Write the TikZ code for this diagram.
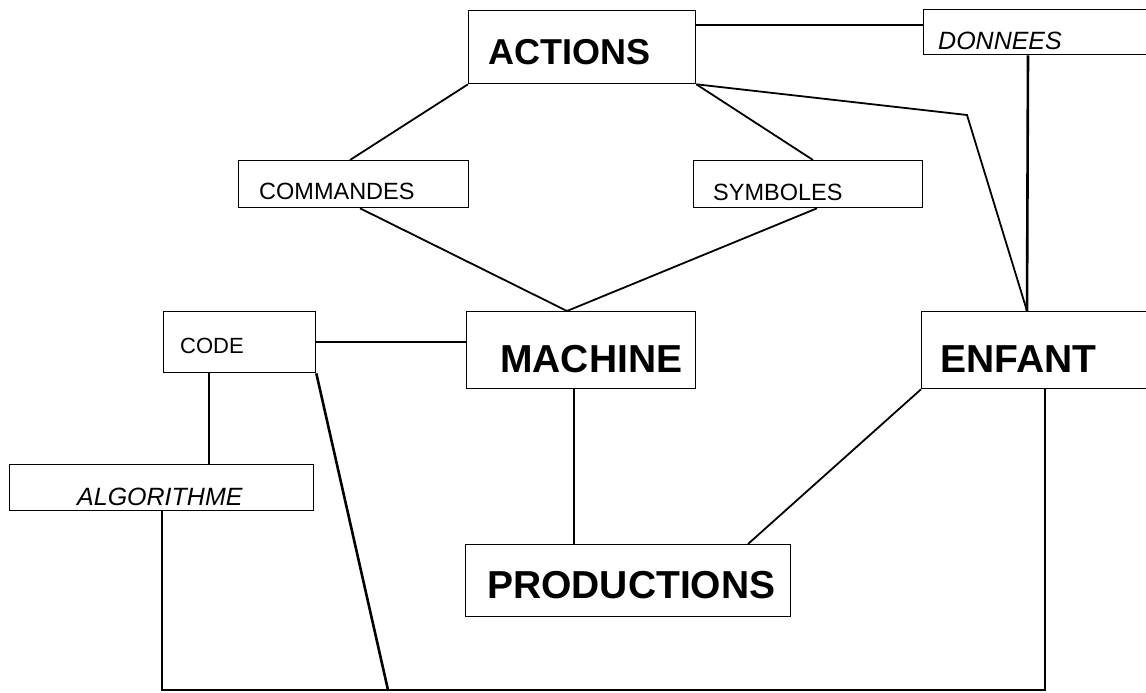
\documentclass[tikz,border=0pt]{standalone}
\usepackage{fontspec}
\setmainfont{Liberation Sans}
\usetikzlibrary{calc}
\begin{document}
\begin{tikzpicture}[x=1pt,y=-1pt,
  box/.style={draw, line width=1.3pt, rectangle, anchor=north west, inner sep=0pt},
  lbl/.style={anchor=base west, inner sep=0pt},
  bigtxt/.style={font=\fontsize{39}{39}\selectfont\bfseries},
  midtxt/.style={font=\fontsize{36}{36}\selectfont\bfseries},
  smalltxt/.style={font=\fontsize{23.5}{24}\selectfont},
  ittxt/.style={font=\fontsize{25}{25}\selectfont\itshape},
  conn/.style={line width=1.8pt, line join=miter},
  thick conn/.style={line width=2.6pt, line join=miter}
]
\useasboundingbox (0,0) rectangle (1146,693);
\clip (0,0) rectangle (1146,693);

% boxes
\node[box, minimum width=227pt, minimum height=73pt] (actions) at (468,10) {};
\node[box, minimum width=240pt, minimum height=45pt] (donnees) at (923,9) {};
\node[box, minimum width=230pt, minimum height=47pt] (commandes) at (238,160) {};
\node[box, minimum width=229pt, minimum height=47pt] (symboles) at (693,160) {};
\node[box, minimum width=152pt, minimum height=61pt] (code) at (163,311) {};
\node[box, minimum width=229pt, minimum height=77pt] (machine) at (466,311) {};
\node[box, minimum width=240pt, minimum height=77pt] (enfant) at (921,311) {};
\node[box, minimum width=304pt, minimum height=46pt] (algo) at (9,464) {};
\node[box, minimum width=325pt, minimum height=72pt] (productions) at (465,544) {};

% labels
\node[lbl, midtxt] (tactions) at (488,65) {ACTIONS};
\node[lbl, ittxt] (tdonnees) at (938,50) {DONNEES};
\node[lbl, smalltxt] (tcommandes) at (259,199) {COMMANDES};
\node[lbl, smalltxt] (tsymboles) at (713,200) {SYMBOLES};
\node[lbl, font=\fontsize{22}{22}\selectfont] (tcode) at (180,353) {CODE};
\node[lbl, bigtxt] (tmachine) at (500,372) {MACHINE};
\node[lbl, bigtxt] (tenfant) at (940,372) {ENFANT};
\node[lbl, ittxt] (talgo) at (77,505) {ALGORITHME};
\node[lbl, bigtxt] (tproductions) at (487,598) {PRODUCTIONS};

% free points
\coordinate (k1) at (967,115);
\coordinate (b1) at (162,690);
\coordinate (b2) at (1045,690);
\coordinate (b3) at (388,690);

% connectors
\draw[conn] ([yshift=-15pt]actions.north east) -- ([yshift=-16pt]donnees.north west);
\draw[conn] (actions.south west) -- ([xshift=112pt]commandes.north west);
\draw[conn] ([xshift=122pt]commandes.south west) -- ([xshift=101pt]machine.north west);
\draw[conn] (actions.south east) -- ([xshift=120pt]symboles.north west);
\draw[conn] ([xshift=124pt]symboles.south west) -- ([xshift=101pt]machine.north west);
\draw[conn] (actions.south east) -- (k1) -- ([xshift=106pt]enfant.north west);
\draw[thick conn] ([xshift=105pt]donnees.south west) -- ([xshift=106pt]enfant.north west);
\draw[conn] ([yshift=-31pt]code.north east) -- ([yshift=-31pt]machine.north west);
\draw[thick conn] ([xshift=46pt]code.south west) -- ([xshift=200pt]algo.north west);
\draw[thick conn] (code.south east) -- (b3);
\draw[thick conn] ([xshift=153pt]algo.south west) -- (b1) -- (b2) -- ([xshift=124pt]enfant.south west);
\draw[conn] ([xshift=108pt]machine.south west) -- ([xshift=109pt]productions.north west);
\draw[conn] (enfant.south west) -- ([xshift=283pt]productions.north west);
\end{tikzpicture}
\end{document}
